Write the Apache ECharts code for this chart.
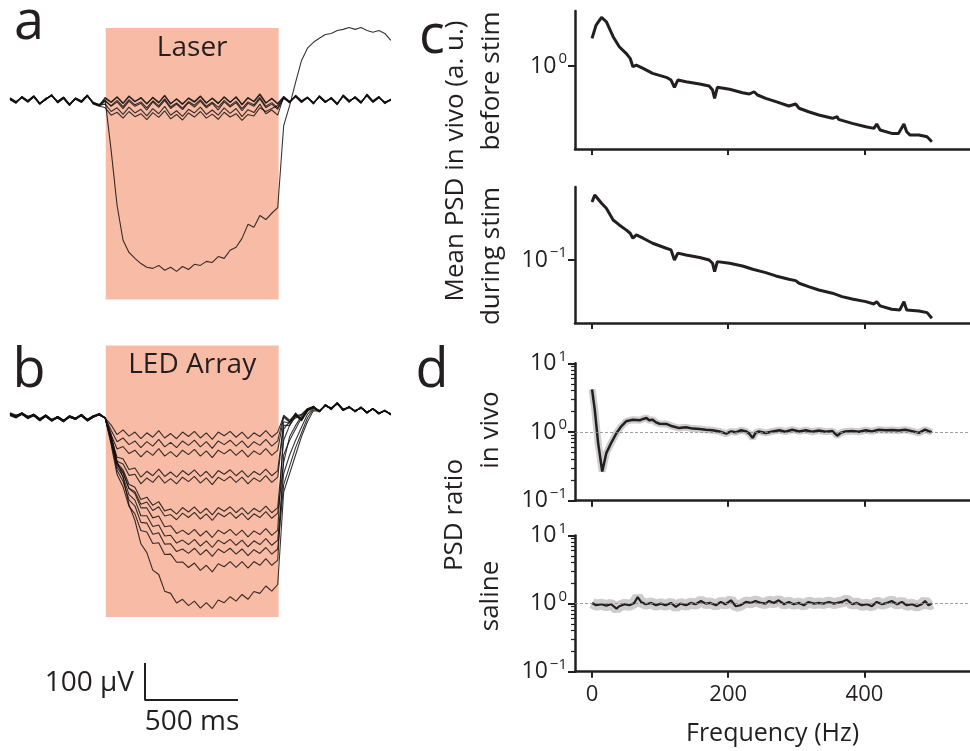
<!DOCTYPE html>
<html><head><meta charset="utf-8">
<script src="https://cdn.jsdelivr.net/npm/echarts@6/dist/echarts.min.js"></script>
<style>html,body{margin:0;padding:0;background:#fff}#c{width:970px;height:751px}</style>
</head><body><div id="c"></div><script>
// ---------- panel a / b : time (ms) and voltage (uV) ----------
const tAB = [0,32,64,96,128,160,192,224,256,288,320,352,384,416,448,480,512,544,576,608,640,672,704,736,768,800,832,864,896,928,960,992,1024,1056,1088,1120,1152,1184,1216,1248,1280,1312,1344,1376,1408,1440,1472,1504,1536,1568,1600,1632,1664,1696,1728,1760,1792,1824,1856,1888,1920,1952,1984,2016,2048];
const stimWindow = [515, 1445];      // ms, shaded period
const stimBox = [-538, 196];         // uV extent of the shaded box
const scaleBar = [500, 100];         // ms, uV

const aT1 = [4,-6,9,-2,11,-9,3,14,-5,7,-12,5,-3,13,-8,-14,8,-4,10,-7,12,-2,6,-10,9,-5,14,-8,3,-11,7,-3,12,-6,5,-9,10,-4,8,-12,6,-2,18,-6,4,-10,9,-5,12,-3,7,-8,11,-4,6,-10,13,-2,8,-6,15,-3,9,-7,2];
const aT2 = [6,-4,7,-5,9,-11,5,12,-3,9,-10,3,-6,11,-6,-12,5,-6,8,-9,10,-4,8,-8,7,-7,12,-10,5,-9,5,-5,10,-8,7,-7,8,-6,10,-10,8,-4,15,-8,6,-8,11,-3,10,-5,9,-6,9,-6,8,-8,11,-4,10,-4,13,-5,7,-5,0];
const aT3 = [2,-8,11,-1,13,-7,1,16,-7,5,-14,7,-1,15,-10,-16,-2,-14,0,-17,2,-12,-4,-20,-1,-15,4,-18,-7,-21,-3,-13,2,-16,-5,-19,0,-14,-2,-22,-4,-12,8,-16,-6,-20,7,-7,14,-1,9,-10,13,-2,4,-12,15,0,6,-8,17,-1,11,-9,4];
const aT4 = [5,-5,8,-3,10,-10,4,13,-4,8,-11,4,-4,12,-7,-13,-10,-30,-20,-38,-18,-34,-24,-42,-22,-36,-16,-40,-28,-43,-24,-34,-18,-38,-26,-40,-20,-35,-22,-44,-25,-33,-10,-36,-26,-40,10,-4,11,-4,6,-7,10,-5,7,-9,12,-3,9,-5,14,-4,8,-6,3];
const aT5 = [3,-7,10,-1,12,-8,2,15,-6,6,-13,6,-2,14,-9,-15,-20,-40,-32,-48,-30,-44,-36,-52,-33,-46,-28,-50,-38,-53,-34,-45,-30,-48,-37,-51,-32,-45,-36,-54,-38,-42,-20,-30,-22,-14,6,-6,13,-2,8,-9,12,-3,5,-11,14,-1,7,-7,16,-2,10,-8,1];
const aT6 = [7,-3,8,-4,10,-8,6,12,-2,9,-10,6,-5,12,-5,-11,0,-16,-4,-22,-2,-16,-8,-26,-4,-19,0,-22,-10,-25,-6,-18,-2,-20,-8,-26,-4,-18,-6,-28,-8,-16,4,-20,-10,-24,5,-3,10,-6,8,-6,9,-6,7,-8,11,-5,10,-4,12,-5,7,-4,1];
const aBig = [4,-6,9,-2,11,-9,3,14,-5,7,-12,5,-3,13,-8,-14,0,-135,-284,-378,-411,-427,-441,-451,-454,-446,-459,-451,-462,-449,-457,-443,-446,-435,-438,-422,-427,-405,-397,-373,-335,-343,-311,-322,-305,-290,-68,-14,49,108,141,157,168,178,181,189,192,197,192,197,189,184,189,181,162];

const b1 = [10,4,12,2,8,-4,6,-6,2,-8,4,-2,8,-6,4,10, 0,-19,-45,-32,-49,-38,-56,-40,-52,-34,-54,-42,-56,-38,-50,-36,-54,-40,-58,-38,-48,-36,-52,-38,-56,-40,-50,-34,-52,-38, 5,-10,12,-5,20,30,18,35,25,40,22,30,18,28,15,25,12,20,10];
const b2 = [12,6,10,0,10,-2,4,-8,4,-6,2,-4,10,-4,6,8, 0,-33,-64,-54,-72,-62,-80,-64,-76,-58,-78,-66,-80,-62,-74,-60,-78,-64,-82,-62,-72,-60,-76,-62,-80,-64,-74,-58,-76,-62, 8,-6,10,-2,22,28,20,32,28,38,20,32,16,30,12,26,14,18,12];
const b3 = [8,2,14,4,6,-6,8,-4,0,-10,6,0,6,-8,2,12, 0,-46,-84,-77,-96,-87,-105,-89,-101,-83,-103,-91,-105,-87,-99,-85,-103,-89,-107,-87,-97,-85,-101,-87,-105,-89,-99,-83,-101,-87, 2,-12,14,-6,18,32,16,36,22,42,24,28,20,26,16,24,10,22,8];
const b4 = [14,8,12,4,10,-2,8,-4,4,-6,6,0,10,-4,6,10, 0,-54,-106,-110,-139,-135,-160,-144,-156,-138,-158,-146,-160,-142,-154,-140,-158,-144,-162,-142,-152,-140,-156,-142,-160,-144,-154,-138,-156,-142, -10,-14,8,-4,24,30,20,34,26,38,24,30,20,28,14,26,12,20,8];
const b5 = [6,0,10,-2,6,-8,4,-8,0,-10,2,-4,6,-8,2,8, 0,-61,-117,-124,-155,-152,-178,-162,-174,-156,-176,-164,-178,-160,-172,-158,-176,-162,-180,-160,-170,-158,-174,-160,-178,-162,-172,-156,-174,-160, -20,-20,6,-8,20,28,18,36,24,40,20,28,18,30,16,24,14,18,10];
const b6 = [10,6,14,2,10,-4,6,-4,2,-6,4,-2,8,-4,4,10, 0,-57,-121,-140,-179,-187,-220,-214,-236,-226,-251,-246,-260,-242,-254,-240,-258,-244,-262,-242,-252,-240,-256,-242,-260,-244,-254,-238,-256,-242, -60,-20,5,10,25,30,18,35,25,40,22,30,18,28,15,25,12,20,10];
const b7 = [12,2,10,4,8,-6,6,-8,4,-8,4,0,6,-6,6,12, 0,-60,-127,-149,-190,-199,-233,-227,-250,-240,-265,-261,-275,-257,-269,-255,-273,-259,-277,-257,-267,-255,-271,-257,-275,-259,-269,-253,-271,-257, -120,-50,-20,5,22,30,20,33,25,38,22,30,18,28,15,25,12,20,10];
const b8 = [8,4,12,0,8,-2,8,-6,2,-8,6,-2,8,-6,4,8, 0,-56,-123,-146,-191,-204,-243,-243,-270,-265,-294,-291,-312,-303,-315,-301,-319,-305,-323,-303,-313,-301,-317,-303,-321,-305,-315,-299,-317,-303, -30,-10,0,8,25,32,18,35,25,40,22,30,18,28,15,25,12,20,10];
const b9 = [10,2,10,2,10,-4,4,-6,0,-8,4,-4,10,-6,2,10, 0,-62,-133,-159,-207,-222,-264,-264,-293,-289,-319,-317,-338,-330,-342,-328,-346,-332,-350,-330,-340,-328,-344,-330,-348,-332,-342,-326,-344,-330, -150,-100,-60,-25,10,28,18,35,25,40,22,30,18,28,15,25,12,20,10];
const b10 = [12,4,14,4,8,-4,6,-6,4,-6,4,-2,8,-4,4,10, 0,-66,-142,-171,-221,-238,-282,-284,-314,-310,-341,-340,-361,-354,-366,-352,-370,-356,-374,-354,-364,-352,-368,-354,-372,-356,-366,-350,-368,-354, -180,-130,-80,-40,0,25,18,35,25,40,22,30,18,28,15,25,12,20,10];
const b11 = [8,6,12,2,6,-6,6,-8,2,-8,2,-2,6,-6,4,8, 0,-72,-153,-186,-239,-259,-304,-308,-339,-337,-369,-368,-390,-389,-404,-392,-412,-398,-416,-394,-402,-388,-404,-388,-406,-388,-398,-380,-398,-384, -100,-60,-30,0,20,30,18,35,25,40,22,30,18,28,15,25,12,20,10];
const b12 = [10,4,10,0,8,-4,8,-6,2,-10,4,-2,8,-8,4,10, 0,-44,-118,-160,-234,-277,-340,-364,-411,-423,-468,-474,-500,-490,-507,-495,-514,-499,-515,-492,-499,-483,-495,-477,-490,-469,-474,-454,-468,-450, -200,-150,-100,-50,-10,20,18,35,25,40,22,30,18,28,15,25,12,20,10];

// ---------- panel c / d : frequency (Hz) ----------
const freqTicks = [0, 200, 400];
const fC1 = [0,6,14,21,31,40,50,56,60,65,75,89,109,116,121,126,138,158,172,177,180,184,202,221,231,238,243,255,270,289,299,304,318,333,353,360,362,382,402,414,418,423,440,450,458,462,467,480,492,499];
const pC1 = [1.892,2.570,3.069,2.773,1.963,1.560,1.340,1.194,0.984,1.023,0.948,0.845,0.771,0.724,0.612,0.724,0.697,0.661,0.631,0.575,0.475,0.612,0.585,0.541,0.525,0.553,0.513,0.475,0.440,0.398,0.417,0.378,0.349,0.324,0.300,0.311,0.293,0.267,0.247,0.238,0.263,0.229,0.212,0.212,0.263,0.220,0.204,0.204,0.196,0.175];
const fC2 = [0,4,14,21,31,40,50,56,60,65,75,89,109,116,121,126,138,158,172,177,180,184,202,221,236,255,270,289,299,304,318,333,353,367,382,402,414,418,423,440,452,458,462,480,492,499];
const pC2 = [0.38,0.447,0.369,0.329,0.251,0.224,0.200,0.185,0.165,0.178,0.165,0.147,0.131,0.126,0.100,0.117,0.112,0.106,0.100,0.0926,0.0764,0.0962,0.0926,0.0871,0.0807,0.0747,0.0692,0.0641,0.0621,0.0585,0.0541,0.0501,0.0465,0.0430,0.0407,0.0383,0.0363,0.0383,0.0347,0.0321,0.0316,0.0383,0.0316,0.0309,0.0297,0.0261];
const fD1 = [0,4,9,15,21,28,36,43,50,60,70,75,80,84,89,94,99,109,118,128,138,148,158,167,177,187,197,204,211,219,226,231,236,240,245,255,265,275,284,294,304,314,323,333,343,353,360,365,372,382,392,402,411,421,431,441,450,460,470,480,489,499];
const rD1 = [4.17,2.12,0.69,0.266,0.493,0.69,0.967,1.21,1.43,1.51,1.48,1.55,1.60,1.48,1.51,1.38,1.32,1.31,1.21,1.14,1.17,1.12,1.11,1.08,1.06,1.02,0.946,1.02,0.99,1.06,1.02,0.946,0.817,0.97,1.02,0.97,1.02,1.06,1.01,1.08,1.02,1.06,1.01,1.05,1.01,1.03,0.884,0.97,1.02,1.03,1.01,1.06,1.02,1.08,1.06,1.07,1.05,1.08,1.03,0.97,1.08,0.99];
const fD2 = [0,6,14,21,28,36,40,48,55,62,67,72,79,87,94,101,108,116,123,130,138,145,152,160,167,174,182,189,196,204,211,218,226,233,240,248,255,260,267,274,282,289,296,304,311,318,326,333,340,348,355,360,367,374,382,389,396,404,411,418,426,433,440,448,455,462,470,477,484,489,494,499];
const rD2 = [1.023,0.945,0.978,0.935,0.978,0.845,0.914,0.978,0.945,1.023,1.25,1.058,0.978,1.023,0.945,1.0,0.945,1.023,0.894,1.0,0.945,1.023,0.978,1.094,1.0,1.023,0.945,1.058,0.978,1.119,0.914,0.945,1.058,1.023,1.094,1.023,1.0,1.094,1.023,1.119,0.978,1.058,0.978,1.023,0.945,1.058,1.0,1.023,1.0,1.058,1.0,1.023,1.058,1.144,0.978,1.023,0.945,0.978,0.914,1.058,0.978,1.023,1.094,0.978,1.058,0.945,0.978,0.914,0.978,1.094,0.945,1.0];
const majorLog = [0.1, 1, 10];
const minorLog = [0.2,0.3,0.4,0.5,0.6,0.7,0.8,0.9,2,3,4,5,6,7,8,9];

// ---------- build ----------
const F = "'Open Sans', sans-serif";
const INK = '#231f20';
const pair = (xs, ys) => xs.map((x, i) => [x, ys[i]]);

function freqX(gi, labels) {
  return {gridIndex: gi, type: 'value', min: -25, max: 555,
    axisLine: {show: true, onZero: false, lineStyle: {color: INK, width: 2.5}},
    axisTick: {show: true, length: 6, lineStyle: {color: INK, width: 2}, customValues: freqTicks},
    axisLabel: {show: labels, customValues: freqTicks, fontSize: 22, fontFamily: F, color: INK, margin: 12},
    splitLine: {show: false},
    name: labels ? 'Frequency (Hz)' : '', nameLocation: 'middle', nameGap: 50,
    nameTextStyle: {fontSize: 25, fontFamily: F, color: INK}};
}
function supLabel(v) {
  const e = Math.round(Math.log10(v));
  return '{b|10}{s|' + (e < 0 ? '\u2212' + (-e) : e) + '}';
}
function logY(gi, mn, mx, ticks) {
  return {gridIndex: gi, type: 'log', logBase: 10, min: mn, max: mx, position: 'left',
    axisLine: {show: true, onZero: false, lineStyle: {color: INK, width: 2.5}},
    axisTick: {show: true, length: 7, lineStyle: {color: INK, width: 2}, customValues: ticks},
    axisLabel: {show: true, customValues: ticks, formatter: supLabel, margin: 8,
      rich: {b: {fontSize: 23, fontFamily: F, color: INK},
             s: {fontSize: 15, fontFamily: F, color: INK, padding: [0, 0, 14, 2]}}},
    splitLine: {show: false}};
}
function minorY(gi) {
  return {gridIndex: gi, type: 'log', logBase: 10, min: 0.1, max: 10, position: 'left',
    axisLine: {show: false, onZero: false},
    axisTick: {show: true, length: 4, lineStyle: {color: INK, width: 1.2}, customValues: minorLog},
    axisLabel: {show: false}, splitLine: {show: false}};
}

const traceStyle = {color: 'rgba(20,16,16,0.85)', width: 1.1};
const series = [];
const boxLabel = () => ({show: true, position: 'insideTop', distance: 6, fontSize: 28, fontFamily: F, color: INK});
series.push({type: 'line', xAxisIndex: 0, yAxisIndex: 0, data: pair(tAB, aT1), symbol: 'none', z: 3, silent: true,
  lineStyle: traceStyle,
  markArea: {silent: true, itemStyle: {color: '#f8bca6'}, label: boxLabel(),
    data: [[{name: 'Laser', xAxis: stimWindow[0], yAxis: stimBox[0]}, {xAxis: stimWindow[1], yAxis: stimBox[1]}]]}});
series.push({type: 'line', xAxisIndex: 1, yAxisIndex: 1, data: pair(tAB, b1), symbol: 'none', z: 3, silent: true,
  lineStyle: traceStyle,
  markArea: {silent: true, itemStyle: {color: '#f8bca6'}, label: boxLabel(),
    data: [[{name: 'LED Array', xAxis: stimWindow[0], yAxis: stimBox[0]}, {xAxis: stimWindow[1], yAxis: stimBox[1]}]]}});
[aT2, aT3, aT4, aT5, aT6, aBig].forEach(tr => series.push({type: 'line', xAxisIndex: 0, yAxisIndex: 0,
  data: pair(tAB, tr), symbol: 'none', z: 3, silent: true, lineStyle: traceStyle}));
[b2, b3, b4, b5, b6, b7, b8, b9, b10, b11, b12].forEach(tr => series.push({type: 'line', xAxisIndex: 1, yAxisIndex: 1,
  data: pair(tAB, tr), symbol: 'none', z: 3, silent: true, lineStyle: traceStyle}));
// scale bar
series.push({type: 'line', xAxisIndex: 2, yAxisIndex: 2, symbol: 'none', silent: true,
  data: [[0, scaleBar[1]], [0, 0], [scaleBar[0], 0]], lineStyle: {color: INK, width: 2}});
// PSD
series.push({type: 'line', xAxisIndex: 3, yAxisIndex: 3, data: pair(fC1, pC1), symbol: 'none', silent: true, lineStyle: {color: INK, width: 3}});
series.push({type: 'line', xAxisIndex: 4, yAxisIndex: 4, data: pair(fC2, pC2), symbol: 'none', silent: true, lineStyle: {color: INK, width: 3}});
const refLine = () => ({silent: true, symbol: 'none', label: {show: false}, lineStyle: {type: [3, 2], color: '#8a8a8a', width: 0.8}, data: [{yAxis: 1}]});
series.push({type: 'line', xAxisIndex: 5, yAxisIndex: 5, data: pair(fD1, rD1), symbol: 'none', silent: true, lineStyle: {color: '#cdcdcd', width: 7}, markLine: refLine()});
series.push({type: 'line', xAxisIndex: 5, yAxisIndex: 5, data: pair(fD1, rD1), symbol: 'none', silent: true, lineStyle: {color: INK, width: 2.5}});
series.push({type: 'line', xAxisIndex: 6, yAxisIndex: 7, data: pair(fD2, rD2), symbol: 'none', silent: true, lineStyle: {color: '#cdcdcd', width: 11}, markLine: refLine()});
series.push({type: 'line', xAxisIndex: 6, yAxisIndex: 7, data: pair(fD2, rD2), symbol: 'none', silent: true, lineStyle: {color: INK, width: 2.2}});

const txt = (text, x, y, size, rot, align) => ({type: 'text', x: x, y: y, rotation: rot || 0, silent: true,
  style: {text: text, fontSize: size, fontFamily: F, fill: INK, textAlign: align || 'center', textVerticalAlign: 'middle'}});

const option = {
  animation: false,
  backgroundColor: '#ffffff',
  grid: [
    {left: 10, top: 19, width: 383, height: 288.6},
    {left: 10, top: 336.6, width: 383, height: 288.6},
    {left: 145, top: 663, width: 93, height: 37},
    {left: 575, top: 11, width: 395, height: 138},
    {left: 575, top: 187, width: 395, height: 136},
    {left: 575, top: 363.3, width: 395, height: 137.4},
    {left: 575, top: 535.5, width: 395, height: 136.2}
  ],
  xAxis: [
    {gridIndex: 0, type: 'value', min: 0, max: 2060, show: false},
    {gridIndex: 1, type: 'value', min: 0, max: 2060, show: false},
    {gridIndex: 2, type: 'value', min: 0, max: 500, show: false},
    freqX(3, false), freqX(4, false), freqX(5, false), freqX(6, true)
  ],
  yAxis: [
    {gridIndex: 0, type: 'value', min: -560, max: 220, show: false},
    {gridIndex: 1, type: 'value', min: -560, max: 220, show: false},
    {gridIndex: 2, type: 'value', min: 0, max: 100, show: false},
    logY(3, 0.148, 3.55, [1]),
    logY(4, 0.0234, 0.537, [0.1]),
    logY(5, 0.1, 10, majorLog), minorY(5),
    logY(6, 0.1, 10, majorLog), minorY(6)
  ],
  graphic: [
    txt('a', 29, 24, 54), txt('b', 29, 372, 54), txt('c', 432, 38, 54), txt('d', 432, 372, 54),
    txt('100 \u00b5V', 134, 683, 28, 0, 'right'), txt('500 ms', 192, 722, 28),
    txt('Mean PSD in vivo (a. u.)', 456, 161, 26, Math.PI / 2),
    txt('before stim', 492, 81, 26, Math.PI / 2),
    txt('during stim', 492, 256, 26, Math.PI / 2),
    txt('PSD ratio', 455, 515, 26, Math.PI / 2),
    txt('in vivo', 491, 430, 26, Math.PI / 2),
    txt('saline', 491, 596, 26, Math.PI / 2)
  ],
  series: series
};
const chart = echarts.init(document.getElementById('c'), null, {renderer: 'canvas'});
chart.setOption(option);
</script></body></html>
